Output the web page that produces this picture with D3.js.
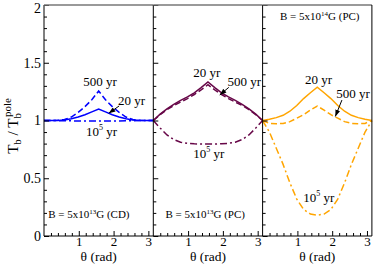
<!DOCTYPE html>
<html><head><meta charset="utf-8">
<script src="https://cdn.jsdelivr.net/npm/d3@7"></script>
<style>
body{margin:0;background:#fff}
svg{display:block}
text{font-family:"Liberation Serif","Times New Roman",serif;fill:#000}
</style>
</head><body>
<svg id="c" width="374" height="265"></svg>
<script>
// ---- data ----
const theta = [0, 0.196, 0.393, 0.589, 0.785, 0.982, 1.178, 1.374, 1.571, 1.767, 1.963, 2.160, 2.356, 2.553, 2.749, 2.945, 3.142];

const cd13_20yr  = [1.0, 1.0, 1.0, 1.005, 1.015, 1.03, 1.05, 1.075, 1.10, 1.075, 1.05, 1.03, 1.015, 1.005, 1.0, 1.0, 1.0];
const cd13_500yr = [1.0, 1.0, 1.002, 1.008, 1.03, 1.07, 1.12, 1.18, 1.255, 1.18, 1.12, 1.07, 1.03, 1.008, 1.002, 1.0, 1.0];
const cd13_1e5yr = [1.0, 1.0, 0.999, 0.998, 0.997, 0.996, 0.995, 0.995, 0.995, 0.995, 0.995, 0.996, 0.997, 0.998, 0.999, 1.0, 1.0];

const pc13_20yr  = [1.0, 1.055, 1.10, 1.14, 1.175, 1.205, 1.24, 1.285, 1.334, 1.285, 1.24, 1.205, 1.175, 1.14, 1.10, 1.055, 1.0];
const pc13_500yr = [1.0, 1.05, 1.095, 1.13, 1.16, 1.19, 1.225, 1.265, 1.31, 1.265, 1.225, 1.19, 1.16, 1.13, 1.095, 1.05, 1.0];
const pc13_1e5yr = [1.0, 0.935, 0.875, 0.835, 0.812, 0.802, 0.798, 0.797, 0.797, 0.797, 0.798, 0.802, 0.812, 0.835, 0.875, 0.935, 1.0];

const pc14_20yr  = [1.0, 1.01, 1.025, 1.045, 1.08, 1.13, 1.19, 1.24, 1.288, 1.24, 1.19, 1.13, 1.08, 1.045, 1.025, 1.01, 1.0];
const pc14_500yr = [1.0, 0.975, 0.972, 0.975, 0.99, 1.02, 1.05, 1.09, 1.125, 1.09, 1.05, 1.02, 0.99, 0.975, 0.972, 0.975, 1.0];
const pc14_1e5yr = [1.0, 0.90, 0.76, 0.62, 0.46, 0.32, 0.23, 0.19, 0.18, 0.19, 0.23, 0.32, 0.46, 0.62, 0.76, 0.90, 1.0];

const seriesNames = ["20 yr", "500 yr", "10^5 yr"];
const panelFields = ["5x10", "5x10", "5x10"];
const panelExps = ["13", "13", "14"];
const panelTypes = ["(CD)", "(PC)", "(PC)"];
const panelColors = ["#0000ff", "#670748", "#ffa500"];
const xTickValues = [1, 2, 3];
const yTickValues = [0, 0.5, 1, 1.5, 2];
const yTickLabels = ["0", "0.5", "1", "1.5", "2"];
const xTitle = "θ (rad)";

const panelData = [
  [cd13_20yr, cd13_500yr, cd13_1e5yr],
  [pc13_20yr, pc13_500yr, pc13_1e5yr],
  [pc14_20yr, pc14_500yr, pc14_1e5yr]
];

// annotation anchors (data coordinates: theta, value)
const annots = [
  { bLabel:[0.12,0.156,"start"], l20:[2.13,1.134,"start"], l500:[1.61,1.30,"middle"], l1e5:[1.21,0.866],
    arrow:[[2.16,1.126],[1.86,1.062]] },
  { bLabel:[0.35,0.156,"start"], l20:[1.54,1.377,"middle"], l500:[2.13,1.30,"start"], l1e5:[1.15,0.675],
    arrow:[[2.17,1.287],[1.91,1.221]] },
  { bLabel:[0.50,1.87,"start"], l20:[1.22,1.316,"start"], l500:[2.12,1.195,"start"], l1e5:[1.17,0.294],
    arrow:[[2.28,1.177],[2.09,1.035]] }
];

// ---- layout ----
const svg = d3.select("#c");
const padL = 44, panelW = 109.3, padT = 5, baseY = 236;
const y = d3.scaleLinear().domain([0, 2]).range([baseY, padT]);
const dashes = [null, "6,3", "7,3,2,3"];

svg.append("defs").append("marker")
  .attr("id","ah").attr("viewBox","0 0 8 6").attr("refX",8).attr("refY",3)
  .attr("markerWidth",7).attr("markerHeight",5).attr("markerUnits","userSpaceOnUse")
  .attr("orient","auto")
  .append("path").attr("d","M0,0 L8,3 L0,6 Z").attr("fill","#000");

panelData.forEach((series, p) => {
  const x0 = padL + p * panelW;
  const x = d3.scaleLinear().domain([0, Math.PI]).range([x0, x0 + panelW]);
  const g = svg.append("g");
  const col = panelColors[p];

  // curves
  const line = d3.line().x((d,i) => x(theta[i])).y(d => y(d)).curve(d3.curveLinear);
  series.forEach((vals, s) => {
    g.append("path").datum(vals).attr("d", line)
      .attr("fill","none").attr("stroke", col).attr("stroke-width", 1.5)
      .attr("stroke-dasharray", dashes[s]);
  });

  // x axis: major + minor ticks pointing inward
  const minorX = d3.range(0.2, 3.15, 0.2).filter(v => Math.abs(v - Math.round(v)) > 0.01);
  g.append("g").attr("transform", `translate(0,${baseY})`)
    .call(d3.axisBottom(x).tickValues(minorX).tickSize(-3).tickFormat(""))
    .call(a => a.select(".domain").remove());
  g.append("g").attr("transform", `translate(0,${baseY})`)
    .call(d3.axisBottom(x).tickValues(xTickValues).tickSize(-5).tickPadding(1).tickFormat(d3.format("d")))
    .call(a => a.select(".domain").remove())
    .call(a => a.selectAll("text").attr("font-size", 13).attr("font-family", '"Liberation Serif",serif').attr("fill","#000"));

  // y axis ticks on left edge of each panel
  const minorY = d3.range(0.1, 2, 0.1).filter(v => Math.abs(v*2 - Math.round(v*2)) > 0.01);
  g.append("g").attr("transform", `translate(${x0},0)`)
    .call(d3.axisLeft(y).tickValues(minorY).tickSize(-3).tickFormat(""))
    .call(a => a.select(".domain").remove());
  g.append("g").attr("transform", `translate(${x0},0)`)
    .call(d3.axisLeft(y).tickValues(yTickValues).tickSize(-5).tickPadding(3)
      .tickFormat((d,i) => p === 0 ? yTickLabels[i] : ""))
    .call(a => a.select(".domain").remove())
    .call(a => a.selectAll("text").attr("font-size", 14).attr("font-family", '"Liberation Serif",serif').attr("fill","#000")
      .attr("dy", d => d === 2 ? "0.55em" : "0.32em"));

  // frame
  g.append("line").attr("x1", x0).attr("x2", x0).attr("y1", padT).attr("y2", baseY).attr("stroke","#000");
  g.append("line").attr("x1", x0).attr("x2", x0 + panelW).attr("y1", baseY).attr("y2", baseY).attr("stroke","#000");
  g.append("line").attr("x1", x0).attr("x2", x0 + panelW).attr("y1", padT).attr("y2", padT).attr("stroke","#777").attr("stroke-width",1.5);
  if (p === 2) g.append("line").attr("x1", x0 + panelW).attr("x2", x0 + panelW).attr("y1", padT).attr("y2", baseY).attr("stroke","#000");

  // x title
  g.append("text").attr("x", x(Math.PI/2)).attr("y", 261).attr("text-anchor","middle")
    .attr("font-size", 13.5).text(xTitle);

  // annotations
  const A = annots[p];
  const bt = g.append("text").attr("x", x(A.bLabel[0])).attr("y", y(A.bLabel[1]))
    .attr("text-anchor", A.bLabel[2]).attr("font-size", 11);
  bt.append("tspan").text("B = " + panelFields[p]);
  bt.append("tspan").attr("font-size", 7).attr("dy", -4).text(panelExps[p]);
  bt.append("tspan").attr("dy", 4).text("G " + panelTypes[p]);

  g.append("text").attr("x", x(A.l20[0])).attr("y", y(A.l20[1])).attr("text-anchor", A.l20[2])
    .attr("font-size", 13).text(seriesNames[0]);
  g.append("text").attr("x", x(A.l500[0])).attr("y", y(A.l500[1])).attr("text-anchor", A.l500[2])
    .attr("font-size", 13).text(seriesNames[1]);
  const t5 = g.append("text").attr("x", x(A.l1e5[0])).attr("y", y(A.l1e5[1])).attr("font-size", 13);
  t5.append("tspan").text("10");
  t5.append("tspan").attr("font-size", 8).attr("dy", -6).text("5");
  t5.append("tspan").attr("dy", 6).text(" yr");

  g.append("line")
    .attr("x1", x(A.arrow[0][0])).attr("y1", y(A.arrow[0][1]))
    .attr("x2", x(A.arrow[1][0])).attr("y2", y(A.arrow[1][1]))
    .attr("stroke","#000").attr("stroke-width",1).attr("marker-end","url(#ah)");
});

// y title
const yt = svg.append("text").attr("transform","translate(18,126) rotate(-90)")
  .attr("text-anchor","middle").attr("font-size", 15);
yt.append("tspan").text("T");
yt.append("tspan").attr("font-size", 11).attr("dy", 3).text("b");
yt.append("tspan").attr("dy", -3).text(" / T");
yt.append("tspan").attr("font-size", 11).attr("dy", 3).text("b");
yt.append("tspan").attr("font-size", 11).attr("dx", -4).attr("dy", -10).text("pole");
</script>
</body></html>
